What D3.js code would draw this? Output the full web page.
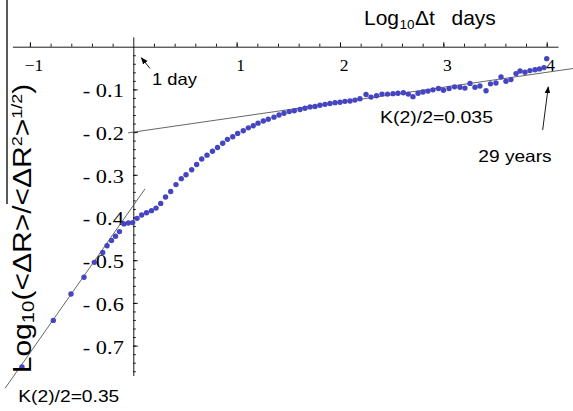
<!DOCTYPE html>
<html><head><meta charset="utf-8">
<script src="https://cdn.jsdelivr.net/npm/d3@7"></script>
<style>html,body{margin:0;padding:0;background:#fff;}svg{display:block;}</style>
</head><body>
<script>
// ---- data ----
const xVals = [-1.077,-0.774,-0.603,-0.477,-0.377,-0.296,-0.254,-0.211,-0.172,-0.134,-0.090,-0.048,-0.006,
0.036,0.081,0.128,0.176,0.220,0.265,0.312,0.362,0.413,0.464,0.510,0.565,0.613,0.662,0.713,0.766,0.815,0.865,0.911,0.962,1.010,1.064,1.113,1.161,1.207,1.258,1.306,1.361,1.410,1.458,1.509,1.558,1.613,1.661,1.710,1.758,1.806,1.855,1.903,1.952,2.000,2.048,2.097,2.145,2.193,2.252,2.300,2.353,2.406,2.460,2.513,2.561,2.613,2.661,2.706,2.755,2.803,2.851,2.900,2.953,3.001,3.055,3.108,3.161,3.209,3.258,3.306,3.354,3.413,3.456,3.509,3.558,3.606,3.654,3.703,3.742,3.790,3.838,3.887,3.930,3.974,4.000];
const yVals = [-0.750,-0.641,-0.579,-0.540,-0.505,-0.482,-0.466,-0.454,-0.444,-0.433,-0.415,-0.413,-0.412,
-0.402,-0.394,-0.389,-0.384,-0.378,-0.367,-0.352,-0.339,-0.323,-0.309,-0.300,-0.288,-0.276,-0.263,-0.254,-0.245,-0.236,-0.226,-0.217,-0.211,-0.203,-0.197,-0.190,-0.185,-0.179,-0.174,-0.170,-0.165,-0.160,-0.156,-0.152,-0.150,-0.147,-0.144,-0.141,-0.140,-0.137,-0.135,-0.133,-0.131,-0.130,-0.128,-0.127,-0.125,-0.122,-0.112,-0.118,-0.115,-0.111,-0.111,-0.110,-0.109,-0.108,-0.111,-0.117,-0.109,-0.106,-0.104,-0.101,-0.098,-0.102,-0.098,-0.094,-0.095,-0.097,-0.086,-0.095,-0.092,-0.103,-0.087,-0.085,-0.071,-0.081,-0.077,-0.063,-0.057,-0.060,-0.056,-0.054,-0.052,-0.049,-0.028];
const xMajorTicks = [-1, 1, 2, 3, 4];
const xTickLabels = ["\u22121", "1", "2", "3", "4"];
const yMajorTicks = [-0.1, -0.2, -0.3, -0.4, -0.5, -0.6, -0.7];
const yTickLabels = ["- 0.1", "- 0.2", "- 0.3", "- 0.4", "- 0.5", "- 0.6", "- 0.7"];
const fitIntercepts = [-0.2, -0.372];
const fitSlopes = [0.035, 0.345];
const fitFrom = [-0.05, -1.24];
const fitTo = [4.26, 0.113];
const fitLabels = ["K(2)/2=0.035", "K(2)/2=0.35"];

// ---- layout ----
const W = 573, H = 411;
const svg = d3.select("body").append("svg").attr("width", W).attr("height", H);
const x = d3.scaleLinear().domain([0, 4]).range([133.3, 546.7]);
const y = d3.scaleLinear().domain([0, -0.7]).range([46.7, 345.6]);
const x0 = x(0), y0 = y(0);
const serif = "'Liberation Serif','Times New Roman',serif";
const sans = "'Liberation Sans',Arial,Helvetica,sans-serif";

// x axis (ticks pointing up, labels below)
const xAxisScale = x.copy().domain([-1.17, 4.11]).range([x(-1.17), x(4.11)]);
const xMinor = d3.range(-1.0, 4.01, 0.2).map(v => +v.toFixed(1)).filter(v => Math.abs(v) > 1e-9);
const gx = svg.append("g").attr("transform", `translate(0,${y0})`);
gx.call(d3.axisBottom(xAxisScale).tickValues(xMinor).tickSizeInner(-3).tickSizeOuter(0).tickFormat(""));
const gx2 = svg.append("g").attr("transform", `translate(0,${y0})`);
gx2.call(d3.axisBottom(xAxisScale).tickValues(xMajorTicks).tickSizeInner(-4.5).tickSizeOuter(0)
  .tickPadding(11.5).tickFormat((d, i) => xTickLabels[i]));
gx2.select(".domain").remove();
gx2.selectAll("text").attr("font-family", serif).attr("font-size", 17.5).attr("fill", "#000").attr("dx", 3.5);
[gx, gx2].forEach(g => g.selectAll("line,path").attr("stroke", "#000").attr("stroke-width", 0.9));

// y axis (ticks pointing right, labels left)
const yAxisScale = y.copy().domain([0.023, -0.77]).range([y(0.023), y(-0.77)]);
const yMinor = d3.range(-0.02, -0.761, -0.02).map(v => +v.toFixed(2));
const gy = svg.append("g").attr("transform", `translate(${x0},0)`);
gy.call(d3.axisLeft(yAxisScale).tickValues(yMinor).tickSizeInner(-2.5).tickSizeOuter(0).tickFormat(""));
const gy2 = svg.append("g").attr("transform", `translate(${x0},0)`);
gy2.call(d3.axisLeft(yAxisScale).tickValues(yMajorTicks).tickSizeInner(-4.5).tickSizeOuter(0)
  .tickPadding(9.5).tickFormat((d, i) => yTickLabels[i]));
gy2.select(".domain").remove();
gy2.selectAll("text").attr("font-family", serif).attr("font-size", 19.5).attr("fill", "#000")
  .attr("dy", "0.38em").attr("textLength", 41).attr("lengthAdjust", "spacingAndGlyphs");
[gy, gy2].forEach(g => g.selectAll("line,path").attr("stroke", "#000").attr("stroke-width", 0.9));

// fit lines
const line = d3.line().x(d => x(d[0])).y(d => y(d[1]));
fitSlopes.forEach((s, i) => {
  const pts = [fitFrom[i], fitTo[i]].map(v => [v, fitIntercepts[i] + s * v]);
  svg.append("path").attr("d", line(pts)).attr("fill", "none")
    .attr("stroke", "#555").attr("stroke-width", 0.9);
});

// data points
svg.append("g").selectAll("circle").data(xVals.map((v, i) => [v, yVals[i]])).join("circle")
  .attr("cx", d => x(d[0])).attr("cy", d => y(d[1])).attr("r", 2.7).attr("fill", "#4545c2");

// text helper
function txt(px, py, s, size, fam, len, anchor) {
  const t = svg.append("text").attr("x", px).attr("y", py).attr("font-size", size)
    .attr("font-family", fam).attr("fill", "#000").text(s);
  if (anchor) t.attr("text-anchor", anchor);
  if (len) t.attr("textLength", len).attr("lengthAdjust", "spacingAndGlyphs");
  return t;
}

// x title (single text with subscript)
const xt = svg.append("text").attr("x", 364).attr("y", 25).attr("font-family", sans)
  .attr("font-size", 21).attr("fill", "#000");
xt.append("tspan").text("Log");
xt.append("tspan").attr("font-size", 13.5).attr("dy", 4).attr("dx", 0.5).text("10");
xt.append("tspan").attr("font-size", 21).attr("dy", -4).attr("dx", 0.5).text("\u0394t");
xt.append("tspan").attr("x", 451.5).text("days");

// y title
const yt = svg.append("text").attr("font-family", sans).attr("font-size", 25).attr("fill", "#000")
  .attr("transform", "translate(31,373.3) rotate(-90) scale(1.2,1)");
yt.append("tspan").text("Log");
yt.append("tspan").attr("font-size", 17).attr("dy", 3).text("10");
yt.append("tspan").attr("font-size", 25).attr("dy", -3).text("(<\u0394R>/<\u0394R");
yt.append("tspan").attr("font-size", 15).attr("dy", -9).text("2");
yt.append("tspan").attr("font-size", 25).attr("dy", 9).text(">");
yt.append("tspan").attr("font-size", 15).attr("dy", -9).text("1/2");
yt.append("tspan").attr("font-size", 25).attr("dy", 9).text(")");
svg.append("line").attr("x1", 7).attr("x2", 7).attr("y1", 0).attr("y2", 204)
  .attr("stroke", "#000").attr("stroke-width", 1.3);

// annotations
txt(380, 123.3, fitLabels[0], 17, sans, 113);
txt(18.3, 401.7, fitLabels[1], 17, sans, 101);
txt(152, 84.5, "1 day", 16.5, sans, 45);
txt(478.3, 161.7, "29 years", 16.5, sans, 73.4);

svg.append("defs").append("marker").attr("id", "ah").attr("viewBox", "0 0 10 10")
  .attr("refX", 9).attr("refY", 5).attr("markerWidth", 7).attr("markerHeight", 7)
  .attr("markerUnits", "userSpaceOnUse").attr("orient", "auto")
  .append("path").attr("d", "M0,1 L10,5 L0,9 Z").attr("fill", "#000");
const arrows = [[[0.162, -0.051], [0.078, -0.026]], [[3.961, -0.195], [4.015, -0.094]]];
arrows.forEach(a => {
  svg.append("line").attr("x1", x(a[0][0])).attr("y1", y(a[0][1]))
    .attr("x2", x(a[1][0])).attr("y2", y(a[1][1]))
    .attr("stroke", "#000").attr("stroke-width", 0.9).attr("marker-end", "url(#ah)");
});
</script>
</body></html>
